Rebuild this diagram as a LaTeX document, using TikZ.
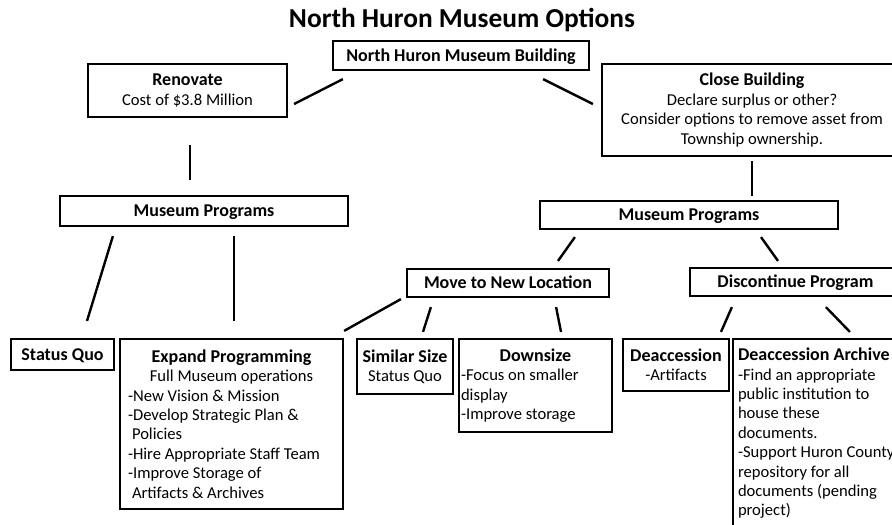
\documentclass[tikz,border=0pt]{standalone}
\usepackage{fontspec}
\setmainfont{Carlito}
\usetikzlibrary{calc}
\newcommand\LL[2]{\makebox[#1][l]{#2}}
\newcommand\bodyfont{\fontsize{16.6}{19.4}\selectfont}
\newcommand\hd[1]{{\fontsize{18}{19.4}\selectfont\bfseries #1}}
\begin{document}
\begin{tikzpicture}[x=1pt,y=-1pt,
  box/.style={draw, line width=2.2pt, inner sep=0pt, align=center, font=\bodyfont},
  one/.style={text height=13.6pt, text depth=2pt},
  conn/.style={line width=2.4pt},
]
\useasboundingbox (0,0) rectangle (892,525);
\fill[white] (0,0) rectangle (892,525);
\clip (0,0) rectangle (892,525);

\node[font=\fontsize{27.4}{30}\selectfont\bfseries] (title) at (462,20) {North Huron Museum Options};

\node[box, one, minimum width=256pt, minimum height=29pt] (bldg) at (461,55.5) {\hd{North Huron Museum Building}};
\node[box, minimum width=199pt, minimum height=53pt] (renov) at (187.5,90.5) {\hd{Renovate}\\Cost of \$3.8 Million};
\node[box, minimum width=300pt, minimum height=92pt] (close) at (752,110) {\hd{Close Building}\\Declare surplus or other?\\Consider options to remove asset from\\Township ownership.};
\node[box, one, minimum width=288pt, minimum height=30pt] (mpL) at (204,211) {\hd{Museum Programs}};
\node[box, one, minimum width=298pt, minimum height=28pt] (mpR) at (689,215) {\hd{Museum Programs}};
\node[box, one, minimum width=202pt, minimum height=28pt] (move) at (508,283) {\hd{Move to New Location}};
\node[box, one, minimum width=211pt, minimum height=28pt] (disc) at (795.5,282) {\hd{Discontinue Program}};
\node[box, one, minimum width=103pt, minimum height=31pt] (sq) at (62.5,354.5) {\hd{Status Quo}};
\node[box, minimum width=223pt, minimum height=170pt] (exp) at (231.5,424) {\hd{Expand Programming}\\Full Museum operations\\
  \LL{207pt}{-New Vision \& Mission}\\
  \LL{207pt}{-Develop Strategic Plan \&}\\
  \LL{207pt}{\hspace*{4pt}Policies}\\
  \LL{207pt}{-Hire Appropriate Staff Team}\\
  \LL{207pt}{-Improve Storage of}\\
  \LL{207pt}{\hspace*{4pt}Artifacts \& Archives}};
\node[box, minimum width=96pt, minimum height=55pt] (sim) at (405,366.5) {\hd{Similar Size}\\Status Quo};
\node[box, minimum width=153pt, minimum height=93pt] (down) at (535.5,385.5) {\hd{Downsize}\\
  \LL{149pt}{-Focus on smaller}\\
  \LL{149pt}{display}\\
  \LL{149pt}{-Improve storage}};
\node[box, minimum width=106pt, minimum height=52pt] (deac) at (676,365) {\hd{Deaccession}\\-Artifacts};
\node[box, minimum width=187pt, minimum height=189pt] (arch) at (826.5,433.5) {\LL{177pt}{\hd{Deaccession Archive}}\\
  \LL{177pt}{-Find an appropriate}\\
  \LL{177pt}{public institution to}\\
  \LL{177pt}{house these}\\
  \LL{177pt}{documents.}\\
  \LL{177pt}{-Support Huron County}\\
  \LL{177pt}{repository for all}\\
  \LL{177pt}{documents (pending}\\
  \LL{177pt}{project)}};

\draw[conn] ($(bldg.south west)+(11,8)$) -- ($(renov.east)+(6,13.5)$);
\draw[conn] ($(bldg.south east)+(-47,8)$) -- ($(close.west)+(-8,-6)$);
\draw[conn] ($(renov.south)+(2.5,27)$) -- ($(mpL.north)+(-14,-15)$);
\draw[conn] ($(close.south)+(0,4)$) -- ($(mpR.north)+(63,-4)$);
\draw[conn] ($(mpL.south west)+(54,9)$) -- ($(sq.north)+(24.5,-17)$);
\draw[conn] ($(mpL.south)+(30,9)$) -- ($(exp.north)+(2.5,-17)$);
\draw[conn] ($(mpR.south west)+(36,7)$) -- ($(move.north)+(50,-7)$);
\draw[conn] ($(mpR.south)+(72,7)$) -- ($(disc.north)+(-17.5,-6)$);
\draw[conn] ($(move.south west)+(-5,1)$) -- ($(exp.north east)+(0,-7)$);
\draw[conn] ($(move.south west)+(25,9)$) -- ($(sim.north)+(18,-6)$);
\draw[conn] ($(move.south east)+(-54,9)$) -- ($(down.north)+(25.5,-6)$);
\draw[conn] ($(disc.south west)+(43,10)$) -- ($(deac.north)+(45,-6)$);
\draw[conn] ($(disc.south west)+(137,10)$) -- ($(arch.north west)+(118,-6)$);
\end{tikzpicture}
\end{document}
